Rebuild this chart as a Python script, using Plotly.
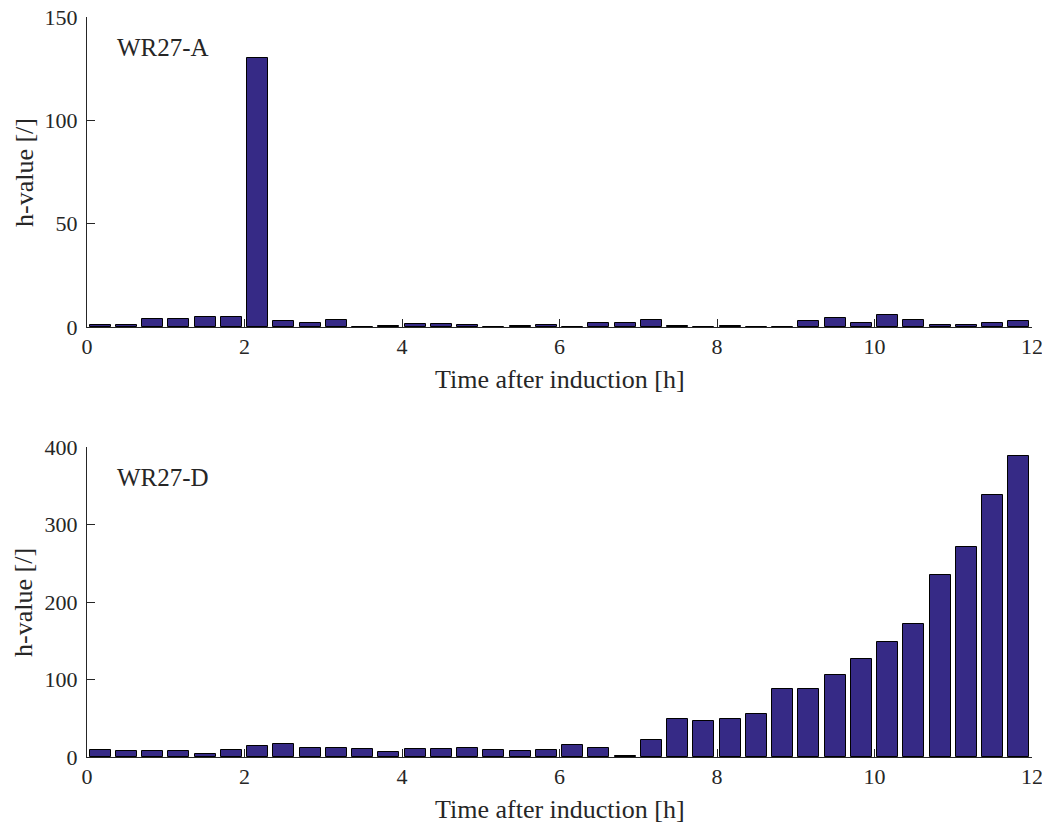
import plotly.graph_objects as go
from plotly.subplots import make_subplots

# Time bins of 20 min, bar centres in hours
bin_hours = [(k + 0.5) / 3 for k in range(36)]

# h-value per bin, WR27-A
wr27_a = [1.0, 1.0, 3.7, 3.9, 5.0, 5.0, 130.0, 3.0, 2.0, 3.3, 0.2, 0.5,
          1.6, 1.4, 0.8, 0.1, 0.7, 1.1, 0.2, 2.1, 2.0, 3.2, 0.3, 0.0,
          0.5, 0.2, 0.2, 2.9, 4.4, 1.7, 6.0, 3.3, 1.1, 1.1, 2.0, 3.0]

# h-value per bin, WR27-D
wr27_d = [9.0, 7.7, 7.3, 7.7, 3.4, 8.6, 14.6, 17.2, 11.2, 11.2, 10.0, 7.0,
          10.0, 10.8, 11.6, 9.0, 7.7, 9.4, 16.0, 11.6, 1.0, 22.0, 48.5, 46.8,
          49.0, 56.0, 87.7, 88.0, 106.0, 126.0, 149.0, 172.0, 235.0, 271.0, 338.0, 388.0]

x_ticks = [0, 2, 4, 6, 8, 10, 12]
bar_color = "rgb(54,42,134)"
font_family = "Liberation Serif"
text_color = "#262626"

fig = make_subplots(rows=2, cols=1, vertical_spacing=120 / 740)

for row, values in ((1, wr27_a), (2, wr27_d)):
    fig.add_trace(
        go.Bar(
            x=bin_hours,
            y=values,
            width=0.8 / 3,
            marker=dict(color=bar_color, line=dict(color="black", width=1)),
            showlegend=False,
        ),
        row=row, col=1,
    )

axis_style = dict(
    showline=True,
    linecolor=text_color,
    linewidth=1,
    mirror=False,
    showgrid=False,
    zeroline=False,
    ticks="inside",
    ticklen=8,
    tickwidth=1,
    tickcolor=text_color,
    ticklabeloverflow="allow",
    tickfont=dict(family=font_family, size=22, color=text_color),
)

fig.update_xaxes(range=[0, 12], tickvals=x_ticks, automargin=False, **axis_style)
fig.update_yaxes(range=[0, 150], tickvals=[0, 50, 100, 150], row=1, col=1,
                 automargin=False, ticklabelstandoff=4, **axis_style)
fig.update_yaxes(range=[0, 400], tickvals=[0, 100, 200, 300, 400], row=2, col=1,
                 automargin=False, ticklabelstandoff=4, **axis_style)

title_font = dict(family=font_family, size=26, color=text_color)
tag_font = dict(family=font_family, size=25, color=text_color)
annotations = [
    dict(text="WR27-A", xref="x domain", yref="y domain", x=0.03, y=0.903,
         xanchor="left", yanchor="middle", showarrow=False, font=tag_font),
    dict(text="WR27-D", xref="x2 domain", yref="y2 domain", x=0.03, y=0.903,
         xanchor="left", yanchor="middle", showarrow=False, font=tag_font),
    dict(text="Time after induction [h]", xref="paper", yref="paper", x=0.5, y=0.5095,
         xanchor="center", yanchor="middle", showarrow=False, font=title_font),
    dict(text="Time after induction [h]", xref="paper", yref="paper", x=0.5, y=-0.0716,
         xanchor="center", yanchor="middle", showarrow=False, font=title_font),
    dict(text="h-value [/]", xref="paper", yref="paper", x=-0.0667, y=0.7905,
         xanchor="center", yanchor="middle", textangle=-90, showarrow=False, font=title_font),
    dict(text="h-value [/]", xref="paper", yref="paper", x=-0.0667, y=0.2095,
         xanchor="center", yanchor="middle", textangle=-90, showarrow=False, font=title_font),
]

fig.update_layout(
    width=1042,
    height=828,
    margin=dict(l=87, r=10, t=17, b=71, autoexpand=False),
    paper_bgcolor="white",
    plot_bgcolor="white",
    bargap=0,
    annotations=annotations,
    font=dict(family=font_family, color=text_color),
)

fig.write_html("out.html")
